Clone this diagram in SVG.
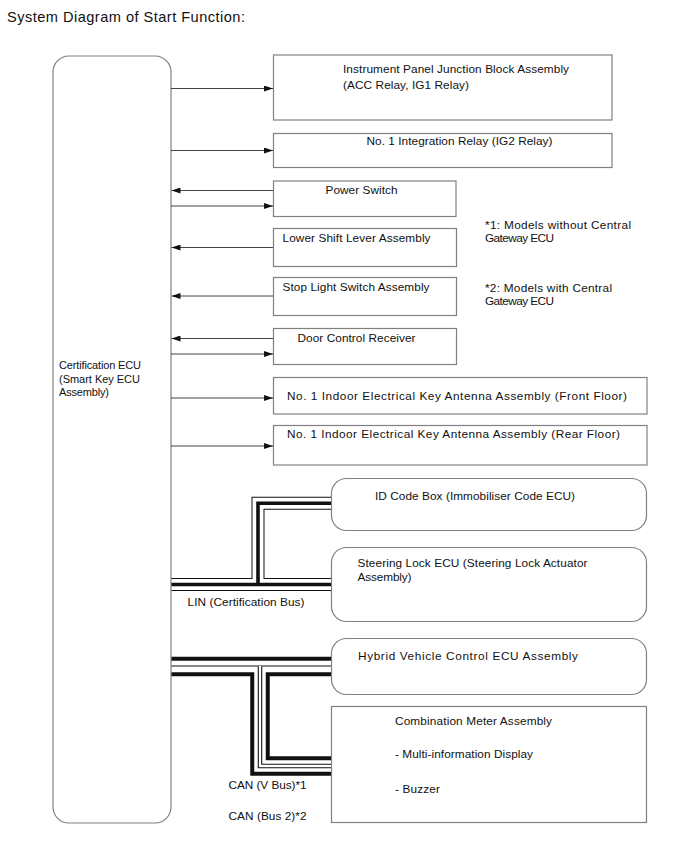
<svg xmlns="http://www.w3.org/2000/svg" width="688" height="852" viewBox="0 0 688 852">
<style>
text{font-family:"Liberation Sans",Arial,sans-serif;font-size:11.8px;fill:#111}
.title{font-size:14.6px}
.small{font-size:11px}
.box{fill:#fff;stroke:#808080;stroke-width:1.2}
.ln{stroke:#444;stroke-width:1;fill:none}
.b1{fill:none;stroke:#111;stroke-linejoin:miter}
.w1{fill:none;stroke:#fff;stroke-linejoin:miter}
</style>
<defs>
<marker id="ah" markerUnits="userSpaceOnUse" markerWidth="10" markerHeight="6" refX="9" refY="3" orient="auto">
<path d="M0,0 L9,3 L0,6 z" fill="#111"/>
</marker>
</defs>
<rect width="688" height="852" fill="#fff"/>
<text class="title" x="7" y="22" textLength="238" lengthAdjust="spacing">System Diagram of Start Function:</text>

<g id="ecu"><rect class="box" x="53" y="56" width="118" height="767" rx="16"/>
<text class="small" x="59" y="369" textLength="82" lengthAdjust="spacing">Certification ECU</text><text class="small" x="59" y="382.5" textLength="81" lengthAdjust="spacing">(Smart Key ECU</text><text class="small" x="59" y="396" textLength="50" lengthAdjust="spacing">Assembly)</text></g>

<g id="ipjb"><rect class="box" x="273.5" y="55" width="338.5" height="65"/>
<text x="343" y="72.5" textLength="226" lengthAdjust="spacing">Instrument Panel Junction Block Assembly</text><text x="343" y="88.5" textLength="126" lengthAdjust="spacing">(ACC Relay, IG1 Relay)</text></g>

<g id="ig2"><rect class="box" x="273.5" y="133.5" width="338.5" height="34"/>
<text x="366.5" y="145" textLength="186" lengthAdjust="spacing">No. 1 Integration Relay (IG2 Relay)</text></g>

<g id="power"><rect class="box" x="273.5" y="181" width="182.5" height="35.5"/>
<text x="325.5" y="194" textLength="72" lengthAdjust="spacing">Power Switch</text></g>

<g id="shift"><rect class="box" x="273.5" y="228.5" width="183" height="38"/>
<text x="282.5" y="241.5" textLength="148" lengthAdjust="spacing">Lower Shift Lever Assembly</text></g>

<g id="stop"><rect class="box" x="273.5" y="277.5" width="183" height="38"/>
<text x="282.5" y="290.5" textLength="147" lengthAdjust="spacing">Stop Light Switch Assembly</text></g>

<g id="door"><rect class="box" x="273.5" y="328.5" width="183" height="36"/>
<text x="297.5" y="341.5" textLength="118" lengthAdjust="spacing">Door Control Receiver</text></g>

<g id="notes"><text x="485" y="228.5" textLength="146" lengthAdjust="spacing">*1: Models without Central</text><text x="485" y="241.5" textLength="69" lengthAdjust="spacing">Gateway ECU</text>
<text x="485" y="291.5" textLength="127" lengthAdjust="spacing">*2: Models with Central</text><text x="485" y="305" textLength="69" lengthAdjust="spacing">Gateway ECU</text></g>

<g id="antFront"><rect class="box" x="273.5" y="377.5" width="373.5" height="36.5"/>
<text x="287" y="400" textLength="340" lengthAdjust="spacing">No. 1 Indoor Electrical Key Antenna Assembly (Front Floor)</text></g>

<g id="antRear"><rect class="box" x="273.5" y="425.5" width="373.5" height="39.5"/>
<text x="287" y="438" textLength="333" lengthAdjust="spacing">No. 1 Indoor Electrical Key Antenna Assembly (Rear Floor)</text></g>

<g id="idbox"><rect class="box" x="331.5" y="478.5" width="315" height="52" rx="15"/>
<text x="375" y="500" textLength="200" lengthAdjust="spacing">ID Code Box (Immobiliser Code ECU)</text></g>

<g id="steer"><rect class="box" x="331.5" y="547.5" width="315" height="74" rx="15"/>
<text x="357.5" y="566.5" textLength="230" lengthAdjust="spacing">Steering Lock ECU (Steering Lock Actuator</text><text x="357.5" y="580.5" textLength="54" lengthAdjust="spacing">Assembly)</text></g>

<g id="hv"><rect class="box" x="331.5" y="638.5" width="315" height="56" rx="15"/>
<text x="358" y="660" textLength="220" lengthAdjust="spacing">Hybrid Vehicle Control ECU Assembly</text></g>

<g id="meter"><rect class="box" x="331.5" y="706.5" width="315" height="116"/>
<text x="395" y="725" textLength="157" lengthAdjust="spacing">Combination Meter Assembly</text><text x="395" y="758" textLength="138" lengthAdjust="spacing">- Multi-information Display</text><text x="395" y="793" textLength="45" lengthAdjust="spacing">- Buzzer</text></g>

<g id="connectors">
<line class="ln" x1="171" y1="88.5" x2="273" y2="88.5" marker-end="url(#ah)"/>
<line class="ln" x1="171" y1="150.5" x2="273" y2="150.5" marker-end="url(#ah)"/>
<line class="ln" x1="273" y1="190.5" x2="171.5" y2="190.5" marker-end="url(#ah)"/>
<line class="ln" x1="171" y1="206" x2="273" y2="206" marker-end="url(#ah)"/>
<line class="ln" x1="273" y1="247.5" x2="171.5" y2="247.5" marker-end="url(#ah)"/>
<line class="ln" x1="273" y1="296" x2="171.5" y2="296" marker-end="url(#ah)"/>
<line class="ln" x1="273" y1="338.5" x2="171.5" y2="338.5" marker-end="url(#ah)"/>
<line class="ln" x1="171" y1="354" x2="273" y2="354" marker-end="url(#ah)"/>
<line class="ln" x1="171" y1="398" x2="273" y2="398" marker-end="url(#ah)"/>
<line class="ln" x1="171" y1="446" x2="273" y2="446" marker-end="url(#ah)"/>

<g id="lin">
<path class="b1" stroke-width="13" d="M171.5,584.5 H331 M331,503.3 H258 V584.5"/>
<path class="w1" stroke-width="11" d="M171.5,584.5 H331 M331,503.3 H258 V584.5"/>
<path class="b1" stroke-width="3.6" d="M171.5,584.5 H331 M331,503.3 H258 V584.5"/>
</g>
<g id="can">
<path class="b1" stroke-width="19.5" d="M171.5,666.5 H331 M260,666.5 V766 H331"/>
<path class="w1" stroke-width="11.5" d="M171.5,666.5 H331 M260,666.5 V766 H331"/>
<path class="b1" stroke-width="1.2" d="M171.5,666 H331"/>
<path class="b1" stroke-width="4.5" d="M260,666.5 V766 H331"/>
<path class="w1" stroke-width="2.3" d="M260,666 V766 H331"/>
</g>
</g>
<text x="187.5" y="606" textLength="117" lengthAdjust="spacing">LIN (Certification Bus)</text>
<text x="228.5" y="788.5" textLength="78" lengthAdjust="spacing">CAN (V Bus)*1</text>
<text x="228.5" y="819.5" textLength="78" lengthAdjust="spacing">CAN (Bus 2)*2</text>
</svg>
